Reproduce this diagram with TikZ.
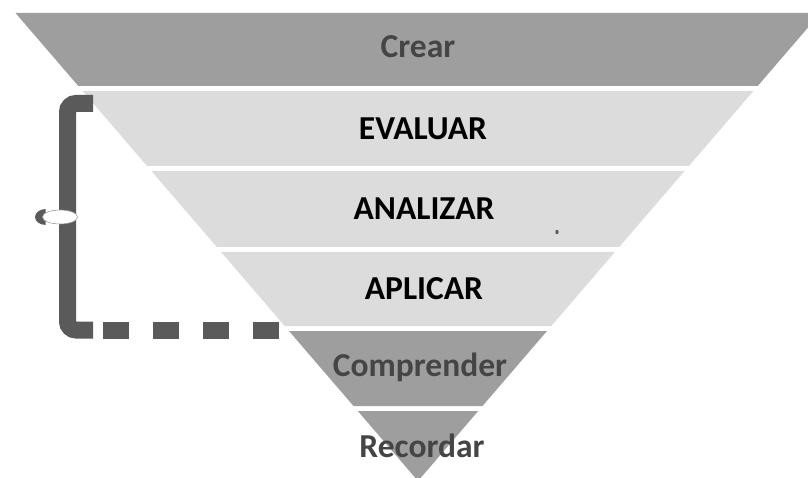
\documentclass[tikz,border=0pt]{standalone}
\usepackage{fontspec}
\setmainfont{Carlito}
\definecolor{midgray}{HTML}{9E9E9E}
\definecolor{lightgray}{HTML}{DCDCDC}
\definecolor{darktext}{HTML}{454545}
\definecolor{bracketgray}{HTML}{5A5A5A}
\tikzset{
  band/.style={fill=#1, draw=none},
  lbl/.style={font=\fontsize{33.5}{33.5}\selectfont\bfseries, inner sep=0pt, anchor=center},
  bracketline/.style={draw=bracketgray, line width=17pt},
}
\begin{document}
\begin{tikzpicture}[x=1pt,y=-1pt]
\useasboundingbox (0,0) rectangle (808,478);
% bands of the inverted pyramid
\fill[band=midgray]   (15.5,13) -- (820.5,13) -- (757.7,86) -- (78.3,86) -- cycle;
\fill[band=lightgray] (82.6,91) -- (753.4,91) -- (688.9,166) -- (147.1,166) -- cycle;
\fill[band=lightgray] (151.4,171) -- (684.6,171) -- (619.2,247) -- (216.8,247) -- cycle;
\fill[band=lightgray] (221.1,252) -- (614.9,252) -- (551.3,326) -- (284.7,326) -- cycle;
\fill[band=midgray]   (289,331) -- (547,331) -- (482.5,406) -- (353.5,406) -- cycle;
\fill[band=midgray]   (357.8,411) -- (478.2,411) -- (418,481) -- cycle;
% labels
\node[lbl, text=darktext] (crear) at (418,47) {Crear};
\node[lbl, text=black] (evaluar) at (423,129) {EVALUAR};
\node[lbl, text=black] (analizar) at (424,209) {ANALIZAR};
\node[lbl, text=black] (aplicar) at (424,289) {APLICAR};
\node[lbl, text=darktext] (comprender) at (420,367) {Comprender};
\node[lbl, text=darktext] (recordar) at (422,446) {Recordar};
% small speck
\fill[bracketgray] (557,232) ellipse (1.6 and 2.2);
% bracket
\coordinate (bt) at (93,103.5);
\coordinate (bb) at (93,330);
\draw[bracketline, rounded corners=8.5pt] (bt) -- (67.5,103.5) -- (67.5,330) -- (bb);
\draw[bracketline, dash pattern=on 26pt off 24pt] (103,330) -- (280,330);
% handle
\begin{scope}
  \clip (30,200) rectangle (45.5,235);
  \fill[bracketgray] (46,217) ellipse (11 and 8);
\end{scope}
\filldraw[fill=white, draw=bracketgray!60, line width=0.6pt] (60,217) ellipse (17.5 and 7);
\end{tikzpicture}
\end{document}
